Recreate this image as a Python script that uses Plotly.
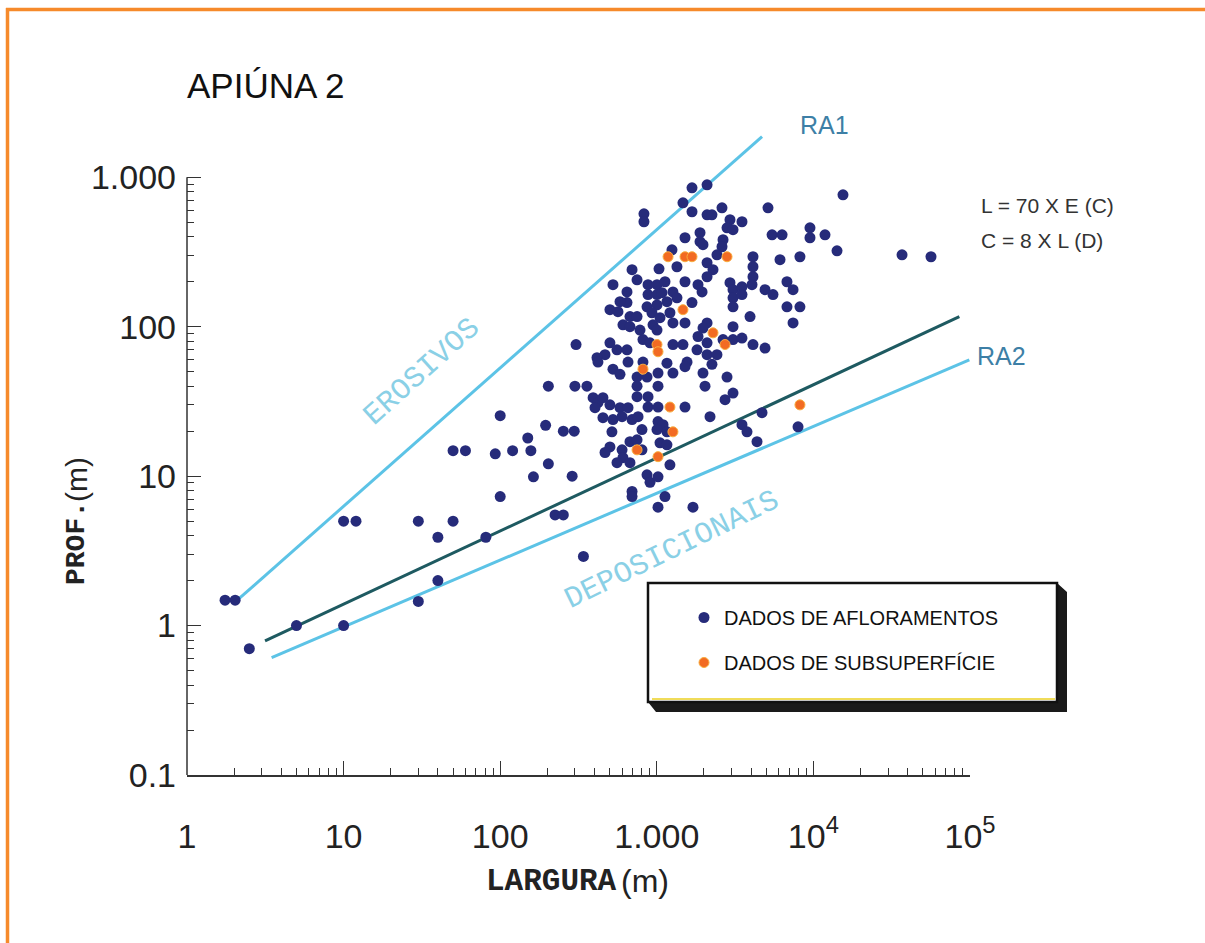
import numpy as np
import plotly.graph_objects as go

# ---------------- data ----------------
# DADOS DE AFLORAMENTOS : largura (m) / profundidade (m)
aflor_largura = [
    1.75, 2.03, 2.5, 5.0, 10, 10, 12, 30, 40, 50, 40, 30, 81, 100, 224, 253, 340,
    50, 60, 93, 120, 157, 150, 195, 253, 297, 100, 203, 163, 288, 203, 300, 358, 305,
    1678, 2094, 15450, 1469, 1678, 828, 828, 5130, 2608, 2094, 2250, 3499, 2933, 2808,
    3067, 1888, 1888, 1972, 1514, 2648, 2608, 5445, 6310, 9510, 9510, 11860, 14150,
    8204, 6120, 4113, 2422, 1250, 1345, 2094, 2285, 2094, 4113, 4113, 1033, 695, 748,
    525, 879, 1003, 1128, 1514, 1833, 1945, 2933, 3067, 3499, 4055, 4911, 5521, 6780,
    7413, 645, 645, 582, 879, 1003, 1079, 1268, 1345, 3067, 3067, 3499, 1678, 866,
    1003, 1161, 502, 565, 6780, 8204, 674, 748, 931, 1048, 1213, 3938, 2094, 1972,
    608, 674, 781, 946, 1003, 1268, 1514, 3067, 7413, 2648, 3067, 3499, 4113, 4911,
    1833, 2094, 1806, 502, 557, 645, 467, 415, 816, 905, 1268, 1469, 2094, 2422, 1560,
    1161, 816,
    421, 525, 582, 655, 748, 866, 1018, 1268, 1514, 1972, 2250, 2808, 748, 1018, 2032,
    392, 421, 453, 748, 879, 2728, 3067, 403, 502, 582, 655, 879, 1018, 1514, 453, 525,
    600, 695, 759, 1018, 1096, 2187, 517, 804, 1003, 1161, 3499, 3767, 4698, 7980,
    4364, 502, 467, 600, 674, 748, 1048, 1161, 804, 608, 557, 674, 1213, 866, 905, 1018,
    695, 695, 1128, 1018, 1702,
    36810, 56360,
]
aflor_prof = [
    1.48, 1.48, 0.70, 1.0, 1.0, 5.0, 5.0, 5.0, 3.9, 5.0, 2.0, 1.45, 3.9, 7.3, 5.5, 5.5, 2.9,
    14.8, 14.8, 14.1, 14.8, 14.8, 18, 21.9, 20, 20, 25.4, 12.1, 9.9, 10, 40, 40, 40, 76,
    851, 891, 764, 675, 588, 570, 504, 625, 625, 561, 561, 504, 520, 459,
    446, 426, 371, 354, 394, 382, 343, 412, 412, 459, 394, 412, 322,
    294, 281, 294, 303, 327, 252, 268, 241, 216, 252, 216, 244, 241, 206,
    191, 191, 191, 200, 200, 191, 171, 197, 177, 185, 191, 177, 164, 200,
    177, 171, 145, 147, 164, 164, 169, 171, 156, 156, 136, 164, 145, 136,
    140, 147, 130, 126, 136, 136, 117, 117, 124, 115, 124, 117, 106, 98,
    103, 100, 95, 103, 95, 106, 106, 100, 106, 82, 82, 84, 76, 72,
    86, 78, 70, 78, 70, 70, 65, 62, 82, 78, 76, 76, 65, 65, 58,
    57, 58,
    58, 52, 48, 58, 46, 46, 49, 49, 54, 49, 56, 46, 40, 40, 40,
    33.5, 31, 33.5, 34, 34, 32.5, 36, 28.7, 30, 28.7, 28.7, 29, 29, 29, 24.6, 23.9,
    25, 23.9, 25, 23.2, 22.1, 25, 19.8, 20.5, 20.5, 19.8, 22.1, 19.8, 26.6, 21.4,
    17, 15.7, 14.4, 15, 17, 17.5, 16.7, 16.2, 15, 13.3, 12.3, 12.3, 11.9, 10.2, 9.1, 9.9,
    7.9, 7.3, 7.3, 6.2, 6.2,
    303, 294,
]
# DADOS DE SUBSUPERFÍCIE
subsup_largura = [1180, 1514, 1678, 2808, 1469, 2285, 1003, 1018, 2728, 816, 1213, 1268, 748, 1018, 8204]
subsup_prof = [294, 294, 294, 294, 130, 91, 76, 68, 76, 52, 29, 19.8, 15, 13.5, 30]

# reference lines (end points)
ra1_largura = [2.05, 4700]
ra1_prof = [1.45, 1870]
media_largura = [3.15, 85500]
media_prof = [0.79, 117]
ra2_largura = [3.47, 99000]
ra2_prof = [0.61, 60]

x_tickvals = [1, 10, 100, 1000, 1e4, 1e5]
x_ticktext = ["1", "10", "100", "1.000", "10<sup>4</sup>", "10<sup>5</sup>"]
y_tickvals = [0.1, 1, 10, 100, 1000]
y_ticktext = ["0.1", "1", "10", "100", "1.000"]
x_minor = [m * 10 ** d for d in range(0, 5) for m in range(2, 10)]
y_minor = [m * 10 ** d for d in range(-1, 3) for m in range(2, 10)]

# ---------------- layout geometry ----------------
W, H = 1205, 943
ML, MR, MT, MB = 187, 235, 125, 168
XR = [0, 5]
YR = [-1, 3.35]
PW, PH = W - ML - MR, H - MT - MB


def px(x):
    return (x - ML) / PW


def py(y):
    return (H - MB - y) / PH


SANS = "Liberation Sans, Arial, sans-serif"
MONO = "Liberation Mono, Courier New, monospace"
LIGHT_BLUE = "#5cc3e6"
DARK_TEAL = "#1e5a61"

fig = go.Figure()
fig.add_trace(go.Scatter(x=ra1_largura, y=ra1_prof, mode="lines",
                         line=dict(color=LIGHT_BLUE, width=3), showlegend=False, hoverinfo="skip"))
fig.add_trace(go.Scatter(x=media_largura, y=media_prof, mode="lines",
                         line=dict(color=DARK_TEAL, width=3), showlegend=False, hoverinfo="skip"))
fig.add_trace(go.Scatter(x=ra2_largura, y=ra2_prof, mode="lines",
                         line=dict(color=LIGHT_BLUE, width=3), showlegend=False, hoverinfo="skip"))
fig.add_trace(go.Scatter(x=aflor_largura, y=aflor_prof, mode="markers",
                         name="DADOS DE AFLORAMENTOS", legendgroup="a",
                         marker=dict(color="#262b7a", size=11, line=dict(width=0))))
fig.add_trace(go.Scatter(x=subsup_largura, y=subsup_prof, mode="markers",
                         name="DADOS DE SUBSUPERFÍCIE", legendgroup="b",
                         marker=dict(color="#f26b23", size=10, line=dict(width=1, color="#f9ad3e"))))

y_top = (3 - YR[0]) / (YR[1] - YR[0])

shapes = [
    # y axis line from 0.1 to 1000
    dict(type="line", xref="paper", yref="paper", x0=0, x1=0, y0=0, y1=y_top,
         line=dict(color="#333333", width=1.5)),
    # orange page frame
    dict(type="line", xref="paper", yref="paper", x0=px(6), x1=px(1215), y0=py(9.5), y1=py(9.5),
         line=dict(color="#f68a2b", width=3.5)),
    dict(type="line", xref="paper", yref="paper", x0=px(7.5), x1=px(7.5), y0=py(8), y1=py(960),
         line=dict(color="#f68a2b", width=3.5)),
    # legend box shadow
    dict(type="path", xref="paper", yref="paper",
         path="M {},{} L {},{} L {},{} L {},{} L {},{} L {},{} Z".format(
             px(648), py(702), px(1057), py(702), px(1057), py(583),
             px(1067), py(592), px(1067), py(712), px(656), py(712)),
         fillcolor="#1a1a1a", line=dict(width=0)),
    dict(type="rect", xref="paper", yref="paper", x0=px(648), x1=px(1057), y0=py(702), y1=py(583),
         fillcolor="white", line=dict(color="#111111", width=2.5)),
    dict(type="line", xref="paper", yref="paper", x0=px(652), x1=px(1055), y0=py(699), y1=py(699),
         line=dict(color="#f0dc5a", width=2)),
]

annotations = [
    dict(text="APIÚNA 2", x=px(185), y=py(86), xanchor="left", yanchor="middle",
         font=dict(family=SANS, size=35, color="#111111")),
    dict(text="RA1", x=px(824), y=py(125), xanchor="center", yanchor="middle",
         font=dict(family=SANS, size=25, color="#3d7fa6")),
    dict(text="RA2", x=px(1001), y=py(356), xanchor="center", yanchor="middle",
         font=dict(family=SANS, size=25, color="#3d7fa6")),
    dict(text="L = 70 X E (C)", x=px(979), y=py(205), xanchor="left", yanchor="middle",
         font=dict(family=SANS, size=21, color="#333333")),
    dict(text="C = 8 X L (D)", x=px(979), y=py(240), xanchor="left", yanchor="middle",
         font=dict(family=SANS, size=21, color="#333333")),
    dict(text="EROSIVOS", x=px(422), y=py(372), xanchor="center", yanchor="middle", textangle=-42,
         font=dict(family=MONO, size=30, color="#8ad0e6")),
    dict(text="DEPOSICIONAIS", x=px(672), y=py(550), xanchor="center", yanchor="middle", textangle=-26,
         font=dict(family=MONO, size=30, color="#8ad0e6")),
    dict(text="<b>LARGURA</b>", x=px(619), y=py(881), xanchor="right", yanchor="middle",
         font=dict(family=MONO, size=31, color="#222222")),
    dict(text="(m)", x=px(619), y=py(881), xanchor="left", yanchor="middle",
         font=dict(family=SANS, size=32, color="#222222")),
    dict(text="<b>PROF.</b>", x=px(76), y=py(543), xanchor="center", yanchor="middle", textangle=-90,
         font=dict(family=MONO, size=28, color="#222222")),
    dict(text="(m)", x=px(76), y=py(480), xanchor="center", yanchor="middle", textangle=-90,
         font=dict(family=SANS, size=30, color="#222222")),
]
for a in annotations:
    a.update(xref="paper", yref="paper", showarrow=False)

fig.update_layout(
    width=W, height=H, autosize=False,
    margin=dict(l=ML, r=MR, t=MT, b=MB, pad=0),
    paper_bgcolor="white", plot_bgcolor="rgba(0,0,0,0)",
    shapes=shapes, annotations=annotations,
    showlegend=True,
    legend=dict(x=px(684), y=py(598), xanchor="left", yanchor="top",
                bgcolor="rgba(0,0,0,0)", borderwidth=0, tracegroupgap=16,
                font=dict(family=SANS, size=20, color="#111111"), traceorder="grouped"),
    xaxis=dict(type="log", range=XR, showgrid=False, zeroline=False,
               showline=True, linecolor="#333333", linewidth=1.5,
               ticks="inside", ticklen=14, tickwidth=1.2, tickcolor="#333333",
               tickvals=x_tickvals, ticktext=x_ticktext, ticklabelstandoff=30,
               tickfont=dict(family=SANS, size=34, color="#222222"),
               minor=dict(tickvals=x_minor, ticks="inside", ticklen=7, tickwidth=1,
                          tickcolor="#333333", showgrid=False)),
    yaxis=dict(type="log", range=YR, showgrid=False, zeroline=False, showline=False,
               ticks="inside", ticklen=14, tickwidth=1.2, tickcolor="#333333",
               tickvals=y_tickvals, ticktext=y_ticktext, ticklabelstandoff=10,
               tickfont=dict(family=SANS, size=34, color="#222222"),
               minor=dict(tickvals=y_minor, ticks="inside", ticklen=7, tickwidth=1,
                          tickcolor="#333333", showgrid=False)),
)

fig.write_html("out.html")
